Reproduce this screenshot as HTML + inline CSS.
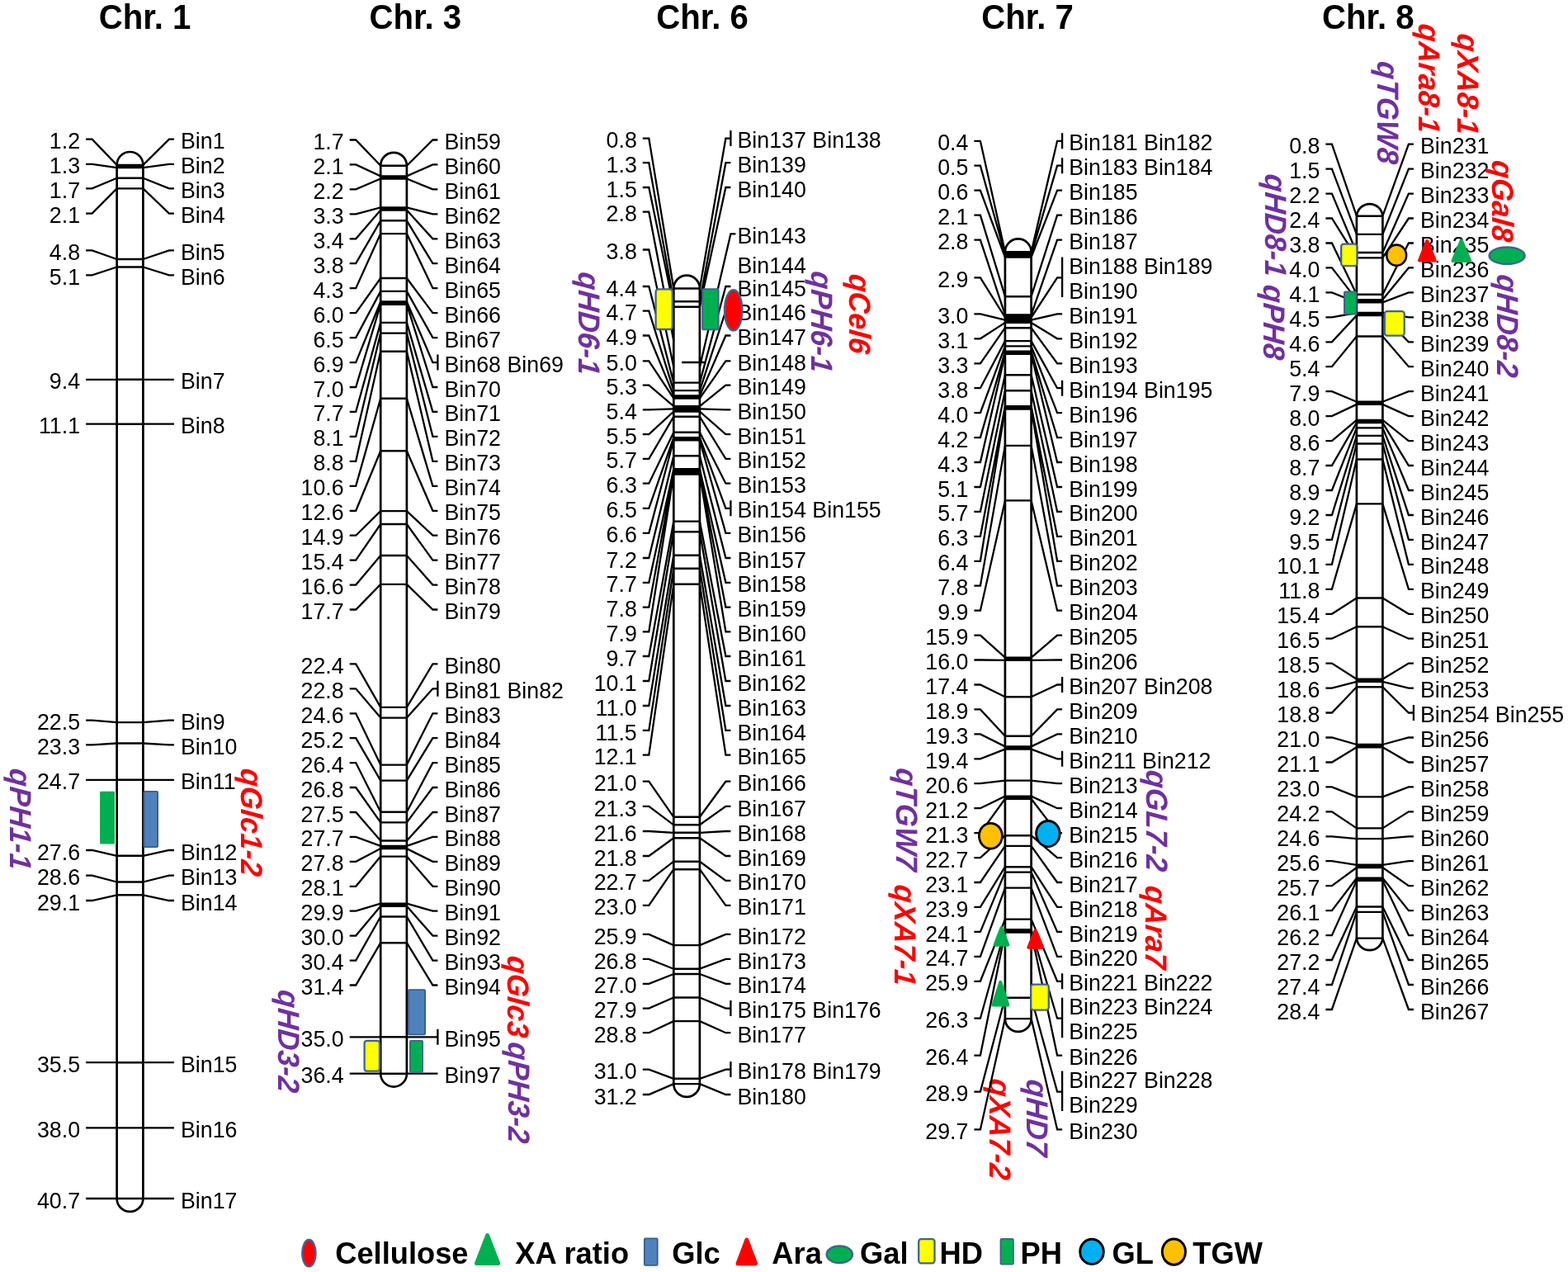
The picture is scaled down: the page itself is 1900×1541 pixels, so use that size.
<!DOCTYPE html><html><head><meta charset="utf-8"><title>Linkage map</title>
<style>html,body{margin:0;padding:0;background:#fff;}svg{display:block;}.lb{font-family:"Liberation Sans",Arial,sans-serif;font-size:26.8px;fill:#000;}.q{font-family:"Liberation Sans",Arial,sans-serif;font-size:35.5px;font-weight:bold;font-style:italic;}.t{font-family:"Liberation Sans",Arial,sans-serif;font-size:40.2px;font-weight:bold;fill:#000;}.lg{font-family:"Liberation Sans",Arial,sans-serif;font-size:36.3px;font-weight:bold;fill:#000;}</style></head><body>
<svg width="1900" height="1541" viewBox="0 0 1900 1541">
<rect width="1900" height="1541" fill="#fff"/>
<path d="M141.6 199.9 V1452 A15.9 15.9 0 0 0 173.4 1452 V199.9 A15.9 15.9 0 0 0 141.6 199.9 Z" fill="#fff" stroke="#000" stroke-width="2.7"/>
<path d="M461.2 200.7 V1300.7 A15.8 15.8 0 0 0 492.9 1300.7 V200.7 A15.8 15.8 0 0 0 461.2 200.7 Z" fill="#fff" stroke="#000" stroke-width="2.7"/>
<path d="M816.3 349.5 V1313.1 A15.8 15.8 0 0 0 847.9 1313.1 V349.5 A15.8 15.8 0 0 0 816.3 349.5 Z" fill="#fff" stroke="#000" stroke-width="2.7"/>
<path d="M1217.9 305.3 V1234.1 A15.8 15.8 0 0 0 1249.6 1234.1 V305.3 A15.8 15.8 0 0 0 1217.9 305.3 Z" fill="#fff" stroke="#000" stroke-width="2.7"/>
<path d="M1643.9 261.7 V1136.6 A15.8 15.8 0 0 0 1675.4 1136.6 V261.7 A15.8 15.8 0 0 0 1643.9 261.7 Z" fill="#fff" stroke="#000" stroke-width="2.7"/>
<g transform="scale(1 1.041)">
<text class="t" x="175.5" y="33.4" text-anchor="middle">Chr. 1</text>
<text class="lb" x="97.1" y="173.2" text-anchor="end">1.2</text>
<text class="lb" x="219" y="173.2">Bin1</text>
<text class="lb" x="97.1" y="202.1" text-anchor="end">1.3</text>
<text class="lb" x="219" y="202.1">Bin2</text>
<text class="lb" x="97.1" y="230.5" text-anchor="end">1.7</text>
<text class="lb" x="219" y="230.5">Bin3</text>
<text class="lb" x="97.1" y="259.6" text-anchor="end">2.1</text>
<text class="lb" x="219" y="259.6">Bin4</text>
<text class="lb" x="97.1" y="302.5" text-anchor="end">4.8</text>
<text class="lb" x="219" y="302.5">Bin5</text>
<text class="lb" x="97.1" y="331.4" text-anchor="end">5.1</text>
<text class="lb" x="219" y="331.4">Bin6</text>
<text class="lb" x="97.1" y="452.9" text-anchor="end">9.4</text>
<text class="lb" x="219" y="452.9">Bin7</text>
<text class="lb" x="97.1" y="504.6" text-anchor="end">11.1</text>
<text class="lb" x="219" y="504.6">Bin8</text>
<text class="lb" x="97.1" y="849.5" text-anchor="end">22.5</text>
<text class="lb" x="219" y="849.5">Bin9</text>
<text class="lb" x="97.1" y="878" text-anchor="end">23.3</text>
<text class="lb" x="219" y="878">Bin10</text>
<text class="lb" x="97.1" y="918.8" text-anchor="end">24.7</text>
<text class="lb" x="219" y="918.8">Bin11</text>
<text class="lb" x="97.1" y="1000.6" text-anchor="end">27.6</text>
<text class="lb" x="219" y="1000.6">Bin12</text>
<text class="lb" x="97.1" y="1030" text-anchor="end">28.6</text>
<text class="lb" x="219" y="1030">Bin13</text>
<text class="lb" x="97.1" y="1059.2" text-anchor="end">29.1</text>
<text class="lb" x="219" y="1059.2">Bin14</text>
<text class="lb" x="97.1" y="1247.6" text-anchor="end">35.5</text>
<text class="lb" x="219" y="1247.6">Bin15</text>
<text class="lb" x="97.1" y="1323.8" text-anchor="end">38.0</text>
<text class="lb" x="219" y="1323.8">Bin16</text>
<text class="lb" x="97.1" y="1406" text-anchor="end">40.7</text>
<text class="lb" x="219" y="1406">Bin17</text>
<text class="t" x="503.3" y="33.4" text-anchor="middle">Chr. 3</text>
<text class="lb" x="416.7" y="174" text-anchor="end">1.7</text>
<text class="lb" x="538.5" y="174">Bin59</text>
<text class="lb" x="416.7" y="202.7" text-anchor="end">2.1</text>
<text class="lb" x="538.5" y="202.7">Bin60</text>
<text class="lb" x="416.7" y="231.5" text-anchor="end">2.2</text>
<text class="lb" x="538.5" y="231.5">Bin61</text>
<text class="lb" x="416.7" y="260.3" text-anchor="end">3.3</text>
<text class="lb" x="538.5" y="260.3">Bin62</text>
<text class="lb" x="416.7" y="289" text-anchor="end">3.4</text>
<text class="lb" x="538.5" y="289">Bin63</text>
<text class="lb" x="416.7" y="317.8" text-anchor="end">3.8</text>
<text class="lb" x="538.5" y="317.8">Bin64</text>
<text class="lb" x="416.7" y="346.6" text-anchor="end">4.3</text>
<text class="lb" x="538.5" y="346.6">Bin65</text>
<text class="lb" x="416.7" y="375.4" text-anchor="end">6.0</text>
<text class="lb" x="538.5" y="375.4">Bin66</text>
<text class="lb" x="416.7" y="404.1" text-anchor="end">6.5</text>
<text class="lb" x="538.5" y="404.1">Bin67</text>
<text class="lb" x="416.7" y="432.9" text-anchor="end">6.9</text>
<text class="lb" x="538.5" y="432.9">Bin68 Bin69</text>
<text class="lb" x="416.7" y="461.7" text-anchor="end">7.0</text>
<text class="lb" x="538.5" y="461.7">Bin70</text>
<text class="lb" x="416.7" y="490.4" text-anchor="end">7.7</text>
<text class="lb" x="538.5" y="490.4">Bin71</text>
<text class="lb" x="416.7" y="519.2" text-anchor="end">8.1</text>
<text class="lb" x="538.5" y="519.2">Bin72</text>
<text class="lb" x="416.7" y="548" text-anchor="end">8.8</text>
<text class="lb" x="538.5" y="548">Bin73</text>
<text class="lb" x="416.7" y="576.8" text-anchor="end">10.6</text>
<text class="lb" x="538.5" y="576.8">Bin74</text>
<text class="lb" x="416.7" y="605.5" text-anchor="end">12.6</text>
<text class="lb" x="538.5" y="605.5">Bin75</text>
<text class="lb" x="416.7" y="634.3" text-anchor="end">14.9</text>
<text class="lb" x="538.5" y="634.3">Bin76</text>
<text class="lb" x="416.7" y="663.1" text-anchor="end">15.4</text>
<text class="lb" x="538.5" y="663.1">Bin77</text>
<text class="lb" x="416.7" y="691.8" text-anchor="end">16.6</text>
<text class="lb" x="538.5" y="691.8">Bin78</text>
<text class="lb" x="416.7" y="720.6" text-anchor="end">17.7</text>
<text class="lb" x="538.5" y="720.6">Bin79</text>
<text class="lb" x="416.7" y="783.9" text-anchor="end">22.4</text>
<text class="lb" x="538.5" y="783.9">Bin80</text>
<text class="lb" x="416.7" y="812.6" text-anchor="end">22.8</text>
<text class="lb" x="538.5" y="812.6">Bin81 Bin82</text>
<text class="lb" x="416.7" y="841.4" text-anchor="end">24.6</text>
<text class="lb" x="538.5" y="841.4">Bin83</text>
<text class="lb" x="416.7" y="870.1" text-anchor="end">25.2</text>
<text class="lb" x="538.5" y="870.1">Bin84</text>
<text class="lb" x="416.7" y="898.9" text-anchor="end">26.4</text>
<text class="lb" x="538.5" y="898.9">Bin85</text>
<text class="lb" x="416.7" y="927.6" text-anchor="end">26.8</text>
<text class="lb" x="538.5" y="927.6">Bin86</text>
<text class="lb" x="416.7" y="956.4" text-anchor="end">27.5</text>
<text class="lb" x="538.5" y="956.4">Bin87</text>
<text class="lb" x="416.7" y="985.1" text-anchor="end">27.7</text>
<text class="lb" x="538.5" y="985.1">Bin88</text>
<text class="lb" x="416.7" y="1013.9" text-anchor="end">27.8</text>
<text class="lb" x="538.5" y="1013.9">Bin89</text>
<text class="lb" x="416.7" y="1042.6" text-anchor="end">28.1</text>
<text class="lb" x="538.5" y="1042.6">Bin90</text>
<text class="lb" x="416.7" y="1071.4" text-anchor="end">29.9</text>
<text class="lb" x="538.5" y="1071.4">Bin91</text>
<text class="lb" x="416.7" y="1100.1" text-anchor="end">30.0</text>
<text class="lb" x="538.5" y="1100.1">Bin92</text>
<text class="lb" x="416.7" y="1128.9" text-anchor="end">30.4</text>
<text class="lb" x="538.5" y="1128.9">Bin93</text>
<text class="lb" x="416.7" y="1157.6" text-anchor="end">31.4</text>
<text class="lb" x="538.5" y="1157.6">Bin94</text>
<text class="lb" x="416.7" y="1218" text-anchor="end">35.0</text>
<text class="lb" x="538.5" y="1218">Bin95</text>
<text class="lb" x="416.7" y="1260.6" text-anchor="end">36.4</text>
<text class="lb" x="538.5" y="1260.6">Bin97</text>
<text class="t" x="851" y="33.4" text-anchor="middle">Chr. 6</text>
<text class="lb" x="771.8" y="172.1" text-anchor="end">0.8</text>
<text class="lb" x="893.5" y="172.1">Bin137 Bin138</text>
<text class="lb" x="771.8" y="200.6" text-anchor="end">1.3</text>
<text class="lb" x="893.5" y="200.6">Bin139</text>
<text class="lb" x="771.8" y="229.2" text-anchor="end">1.5</text>
<text class="lb" x="893.5" y="229.2">Bin140</text>
<text class="lb" x="771.8" y="257.7" text-anchor="end">2.8</text>
<text class="lb" x="771.8" y="301.7" text-anchor="end">3.8</text>
<text class="lb" x="771.8" y="344.5" text-anchor="end">4.4</text>
<text class="lb" x="893.5" y="344.5">Bin145</text>
<text class="lb" x="771.8" y="372.9" text-anchor="end">4.7</text>
<text class="lb" x="893.5" y="372.9">Bin146</text>
<text class="lb" x="771.8" y="401.6" text-anchor="end">4.9</text>
<text class="lb" x="893.5" y="401.6">Bin147</text>
<text class="lb" x="771.8" y="431.2" text-anchor="end">5.0</text>
<text class="lb" x="893.5" y="431.2">Bin148</text>
<text class="lb" x="771.8" y="459.4" text-anchor="end">5.3</text>
<text class="lb" x="893.5" y="459.4">Bin149</text>
<text class="lb" x="771.8" y="488" text-anchor="end">5.4</text>
<text class="lb" x="893.5" y="488">Bin150</text>
<text class="lb" x="771.8" y="516.6" text-anchor="end">5.5</text>
<text class="lb" x="893.5" y="516.6">Bin151</text>
<text class="lb" x="771.8" y="545.1" text-anchor="end">5.7</text>
<text class="lb" x="893.5" y="545.1">Bin152</text>
<text class="lb" x="771.8" y="573.8" text-anchor="end">6.3</text>
<text class="lb" x="893.5" y="573.8">Bin153</text>
<text class="lb" x="771.8" y="602.7" text-anchor="end">6.5</text>
<text class="lb" x="893.5" y="602.7">Bin154 Bin155</text>
<text class="lb" x="771.8" y="631.6" text-anchor="end">6.6</text>
<text class="lb" x="893.5" y="631.6">Bin156</text>
<text class="lb" x="771.8" y="660.5" text-anchor="end">7.2</text>
<text class="lb" x="893.5" y="660.5">Bin157</text>
<text class="lb" x="771.8" y="689.1" text-anchor="end">7.7</text>
<text class="lb" x="893.5" y="689.1">Bin158</text>
<text class="lb" x="771.8" y="717.8" text-anchor="end">7.8</text>
<text class="lb" x="893.5" y="717.8">Bin159</text>
<text class="lb" x="771.8" y="746.3" text-anchor="end">7.9</text>
<text class="lb" x="893.5" y="746.3">Bin160</text>
<text class="lb" x="771.8" y="774.8" text-anchor="end">9.7</text>
<text class="lb" x="893.5" y="774.8">Bin161</text>
<text class="lb" x="771.8" y="803.7" text-anchor="end">10.1</text>
<text class="lb" x="893.5" y="803.7">Bin162</text>
<text class="lb" x="771.8" y="832.5" text-anchor="end">11.0</text>
<text class="lb" x="893.5" y="832.5">Bin163</text>
<text class="lb" x="771.8" y="861.2" text-anchor="end">11.5</text>
<text class="lb" x="893.5" y="861.2">Bin164</text>
<text class="lb" x="771.8" y="889.7" text-anchor="end">12.1</text>
<text class="lb" x="893.5" y="889.7">Bin165</text>
<text class="lb" x="771.8" y="920.6" text-anchor="end">21.0</text>
<text class="lb" x="893.5" y="920.6">Bin166</text>
<text class="lb" x="771.8" y="949.6" text-anchor="end">21.3</text>
<text class="lb" x="893.5" y="949.6">Bin167</text>
<text class="lb" x="771.8" y="978.5" text-anchor="end">21.6</text>
<text class="lb" x="893.5" y="978.5">Bin168</text>
<text class="lb" x="771.8" y="1007.3" text-anchor="end">21.8</text>
<text class="lb" x="893.5" y="1007.3">Bin169</text>
<text class="lb" x="771.8" y="1036" text-anchor="end">22.7</text>
<text class="lb" x="893.5" y="1036">Bin170</text>
<text class="lb" x="771.8" y="1064.8" text-anchor="end">23.0</text>
<text class="lb" x="893.5" y="1064.8">Bin171</text>
<text class="lb" x="771.8" y="1098.5" text-anchor="end">25.9</text>
<text class="lb" x="893.5" y="1098.5">Bin172</text>
<text class="lb" x="771.8" y="1127.3" text-anchor="end">26.8</text>
<text class="lb" x="893.5" y="1127.3">Bin173</text>
<text class="lb" x="771.8" y="1156" text-anchor="end">27.0</text>
<text class="lb" x="893.5" y="1156">Bin174</text>
<text class="lb" x="771.8" y="1184.6" text-anchor="end">27.9</text>
<text class="lb" x="893.5" y="1184.6">Bin175 Bin176</text>
<text class="lb" x="771.8" y="1213.1" text-anchor="end">28.8</text>
<text class="lb" x="893.5" y="1213.1">Bin177</text>
<text class="lb" x="771.8" y="1255.7" text-anchor="end">31.0</text>
<text class="lb" x="893.5" y="1255.7">Bin178 Bin179</text>
<text class="lb" x="771.8" y="1284.9" text-anchor="end">31.2</text>
<text class="lb" x="893.5" y="1284.9">Bin180</text>
<text class="lb" x="893.5" y="283.3">Bin143</text>
<text class="lb" x="893.5" y="318.3">Bin144</text>
<text class="t" x="1245" y="33.4" text-anchor="middle">Chr. 7</text>
<text class="lb" x="1173.4" y="175.2" text-anchor="end">0.4</text>
<text class="lb" x="1295.2" y="175.2">Bin181 Bin182</text>
<text class="lb" x="1173.4" y="204" text-anchor="end">0.5</text>
<text class="lb" x="1295.2" y="204">Bin183 Bin184</text>
<text class="lb" x="1173.4" y="232.7" text-anchor="end">0.6</text>
<text class="lb" x="1295.2" y="232.7">Bin185</text>
<text class="lb" x="1173.4" y="261.5" text-anchor="end">2.1</text>
<text class="lb" x="1295.2" y="261.5">Bin186</text>
<text class="lb" x="1173.4" y="290.3" text-anchor="end">2.8</text>
<text class="lb" x="1295.2" y="290.3">Bin187</text>
<text class="lb" x="1173.4" y="334.3" text-anchor="end">2.9</text>
<text class="lb" x="1295.2" y="318.6">Bin188 Bin189</text>
<text class="lb" x="1295.2" y="347.7">Bin190</text>
<text class="lb" x="1173.4" y="376.5" text-anchor="end">3.0</text>
<text class="lb" x="1295.2" y="376.5">Bin191</text>
<text class="lb" x="1173.4" y="405.3" text-anchor="end">3.1</text>
<text class="lb" x="1295.2" y="405.3">Bin192</text>
<text class="lb" x="1173.4" y="434.1" text-anchor="end">3.3</text>
<text class="lb" x="1295.2" y="434.1">Bin193</text>
<text class="lb" x="1173.4" y="462.8" text-anchor="end">3.8</text>
<text class="lb" x="1295.2" y="462.8">Bin194 Bin195</text>
<text class="lb" x="1173.4" y="491.6" text-anchor="end">4.0</text>
<text class="lb" x="1295.2" y="491.6">Bin196</text>
<text class="lb" x="1173.4" y="520.3" text-anchor="end">4.2</text>
<text class="lb" x="1295.2" y="520.3">Bin197</text>
<text class="lb" x="1173.4" y="549.1" text-anchor="end">4.3</text>
<text class="lb" x="1295.2" y="549.1">Bin198</text>
<text class="lb" x="1173.4" y="577.9" text-anchor="end">5.1</text>
<text class="lb" x="1295.2" y="577.9">Bin199</text>
<text class="lb" x="1173.4" y="606.6" text-anchor="end">5.7</text>
<text class="lb" x="1295.2" y="606.6">Bin200</text>
<text class="lb" x="1173.4" y="635.4" text-anchor="end">6.3</text>
<text class="lb" x="1295.2" y="635.4">Bin201</text>
<text class="lb" x="1173.4" y="664.1" text-anchor="end">6.4</text>
<text class="lb" x="1295.2" y="664.1">Bin202</text>
<text class="lb" x="1173.4" y="692.9" text-anchor="end">7.8</text>
<text class="lb" x="1295.2" y="692.9">Bin203</text>
<text class="lb" x="1173.4" y="721.7" text-anchor="end">9.9</text>
<text class="lb" x="1295.2" y="721.7">Bin204</text>
<text class="lb" x="1173.4" y="750.4" text-anchor="end">15.9</text>
<text class="lb" x="1295.2" y="750.4">Bin205</text>
<text class="lb" x="1173.4" y="779.2" text-anchor="end">16.0</text>
<text class="lb" x="1295.2" y="779.2">Bin206</text>
<text class="lb" x="1173.4" y="808" text-anchor="end">17.4</text>
<text class="lb" x="1295.2" y="808">Bin207 Bin208</text>
<text class="lb" x="1173.4" y="836.7" text-anchor="end">18.9</text>
<text class="lb" x="1295.2" y="836.7">Bin209</text>
<text class="lb" x="1173.4" y="865.5" text-anchor="end">19.3</text>
<text class="lb" x="1295.2" y="865.5">Bin210</text>
<text class="lb" x="1173.4" y="894.2" text-anchor="end">19.4</text>
<text class="lb" x="1295.2" y="894.2">Bin211 Bin212</text>
<text class="lb" x="1173.4" y="923" text-anchor="end">20.6</text>
<text class="lb" x="1295.2" y="923">Bin213</text>
<text class="lb" x="1173.4" y="951.8" text-anchor="end">21.2</text>
<text class="lb" x="1295.2" y="951.8">Bin214</text>
<text class="lb" x="1173.4" y="980.5" text-anchor="end">21.3</text>
<text class="lb" x="1295.2" y="980.5">Bin215</text>
<text class="lb" x="1173.4" y="1009.3" text-anchor="end">22.7</text>
<text class="lb" x="1295.2" y="1009.3">Bin216</text>
<text class="lb" x="1173.4" y="1038" text-anchor="end">23.1</text>
<text class="lb" x="1295.2" y="1038">Bin217</text>
<text class="lb" x="1173.4" y="1066.8" text-anchor="end">23.9</text>
<text class="lb" x="1295.2" y="1066.8">Bin218</text>
<text class="lb" x="1173.4" y="1095.6" text-anchor="end">24.1</text>
<text class="lb" x="1295.2" y="1095.6">Bin219</text>
<text class="lb" x="1173.4" y="1124.3" text-anchor="end">24.7</text>
<text class="lb" x="1295.2" y="1124.3">Bin220</text>
<text class="lb" x="1173.4" y="1153.1" text-anchor="end">25.9</text>
<text class="lb" x="1295.2" y="1153.1">Bin221 Bin222</text>
<text class="lb" x="1173.4" y="1196.2" text-anchor="end">26.3</text>
<text class="lb" x="1295.2" y="1180.6">Bin223 Bin224</text>
<text class="lb" x="1295.2" y="1209.7">Bin225</text>
<text class="lb" x="1173.4" y="1239.4" text-anchor="end">26.4</text>
<text class="lb" x="1295.2" y="1239.4">Bin226</text>
<text class="lb" x="1173.4" y="1281.6" text-anchor="end">28.9</text>
<text class="lb" x="1295.2" y="1266">Bin227 Bin228</text>
<text class="lb" x="1295.2" y="1295.1">Bin229</text>
<text class="lb" x="1173.4" y="1325.6" text-anchor="end">29.7</text>
<text class="lb" x="1295.2" y="1325.6">Bin230</text>
<text class="t" x="1657.8" y="33.4" text-anchor="middle">Chr. 8</text>
<text class="lb" x="1599.4" y="179" text-anchor="end">0.8</text>
<text class="lb" x="1721" y="179">Bin231</text>
<text class="lb" x="1599.4" y="207.7" text-anchor="end">1.5</text>
<text class="lb" x="1721" y="207.7">Bin232</text>
<text class="lb" x="1599.4" y="236.5" text-anchor="end">2.2</text>
<text class="lb" x="1721" y="236.5">Bin233</text>
<text class="lb" x="1599.4" y="265.3" text-anchor="end">2.4</text>
<text class="lb" x="1721" y="265.3">Bin234</text>
<text class="lb" x="1599.4" y="294" text-anchor="end">3.8</text>
<text class="lb" x="1721" y="294">Bin235</text>
<text class="lb" x="1599.4" y="322.8" text-anchor="end">4.0</text>
<text class="lb" x="1721" y="322.8">Bin236</text>
<text class="lb" x="1599.4" y="351.6" text-anchor="end">4.1</text>
<text class="lb" x="1721" y="351.6">Bin237</text>
<text class="lb" x="1599.4" y="380.4" text-anchor="end">4.5</text>
<text class="lb" x="1721" y="380.4">Bin238</text>
<text class="lb" x="1599.4" y="409.1" text-anchor="end">4.6</text>
<text class="lb" x="1721" y="409.1">Bin239</text>
<text class="lb" x="1599.4" y="437.9" text-anchor="end">5.4</text>
<text class="lb" x="1721" y="437.9">Bin240</text>
<text class="lb" x="1599.4" y="466.7" text-anchor="end">7.9</text>
<text class="lb" x="1721" y="466.7">Bin241</text>
<text class="lb" x="1599.4" y="495.4" text-anchor="end">8.0</text>
<text class="lb" x="1721" y="495.4">Bin242</text>
<text class="lb" x="1599.4" y="524.2" text-anchor="end">8.6</text>
<text class="lb" x="1721" y="524.2">Bin243</text>
<text class="lb" x="1599.4" y="553" text-anchor="end">8.7</text>
<text class="lb" x="1721" y="553">Bin244</text>
<text class="lb" x="1599.4" y="581.7" text-anchor="end">8.9</text>
<text class="lb" x="1721" y="581.7">Bin245</text>
<text class="lb" x="1599.4" y="610.5" text-anchor="end">9.2</text>
<text class="lb" x="1721" y="610.5">Bin246</text>
<text class="lb" x="1599.4" y="639.3" text-anchor="end">9.5</text>
<text class="lb" x="1721" y="639.3">Bin247</text>
<text class="lb" x="1599.4" y="668.1" text-anchor="end">10.1</text>
<text class="lb" x="1721" y="668.1">Bin248</text>
<text class="lb" x="1599.4" y="696.8" text-anchor="end">11.8</text>
<text class="lb" x="1721" y="696.8">Bin249</text>
<text class="lb" x="1599.4" y="725.6" text-anchor="end">15.4</text>
<text class="lb" x="1721" y="725.6">Bin250</text>
<text class="lb" x="1599.4" y="754.4" text-anchor="end">16.5</text>
<text class="lb" x="1721" y="754.4">Bin251</text>
<text class="lb" x="1599.4" y="783.1" text-anchor="end">18.5</text>
<text class="lb" x="1721" y="783.1">Bin252</text>
<text class="lb" x="1599.4" y="811.9" text-anchor="end">18.6</text>
<text class="lb" x="1721" y="811.9">Bin253</text>
<text class="lb" x="1599.4" y="840.7" text-anchor="end">18.8</text>
<text class="lb" x="1721" y="840.7">Bin254 Bin255</text>
<text class="lb" x="1599.4" y="869.5" text-anchor="end">21.0</text>
<text class="lb" x="1721" y="869.5">Bin256</text>
<text class="lb" x="1599.4" y="898.2" text-anchor="end">21.1</text>
<text class="lb" x="1721" y="898.2">Bin257</text>
<text class="lb" x="1599.4" y="927" text-anchor="end">23.0</text>
<text class="lb" x="1721" y="927">Bin258</text>
<text class="lb" x="1599.4" y="955.8" text-anchor="end">24.2</text>
<text class="lb" x="1721" y="955.8">Bin259</text>
<text class="lb" x="1599.4" y="984.5" text-anchor="end">24.6</text>
<text class="lb" x="1721" y="984.5">Bin260</text>
<text class="lb" x="1599.4" y="1013.3" text-anchor="end">25.6</text>
<text class="lb" x="1721" y="1013.3">Bin261</text>
<text class="lb" x="1599.4" y="1042.1" text-anchor="end">25.7</text>
<text class="lb" x="1721" y="1042.1">Bin262</text>
<text class="lb" x="1599.4" y="1070.8" text-anchor="end">26.1</text>
<text class="lb" x="1721" y="1070.8">Bin263</text>
<text class="lb" x="1599.4" y="1099.6" text-anchor="end">26.2</text>
<text class="lb" x="1721" y="1099.6">Bin264</text>
<text class="lb" x="1599.4" y="1128.4" text-anchor="end">27.2</text>
<text class="lb" x="1721" y="1128.4">Bin265</text>
<text class="lb" x="1599.4" y="1157.2" text-anchor="end">27.4</text>
<text class="lb" x="1721" y="1157.2">Bin266</text>
<text class="lb" x="1599.4" y="1185.9" text-anchor="end">28.4</text>
<text class="lb" x="1721" y="1185.9">Bin267</text>
</g>
<g transform="scale(1.041 1)">
<text class="q" fill="#7030A0" text-anchor="middle" transform="translate(11.8 991.5) rotate(90) skewX(-5)">qPH1-1</text>
<text class="q" fill="#FF0000" text-anchor="middle" transform="translate(280.3 995.3) rotate(90) skewX(-5)">qGlc1-2</text>
<text class="q" fill="#7030A0" text-anchor="middle" transform="translate(324.2 1260.6) rotate(90) skewX(-5)">qHD3-2</text>
<text class="q" fill="#FF0000" text-anchor="middle" transform="translate(590.4 1206.6) rotate(90) skewX(-5)">qGlc3</text>
<text class="q" fill="#7030A0" text-anchor="middle" transform="translate(591.5 1322.9) rotate(90) skewX(-5)">qPH3-2</text>
<text class="q" fill="#7030A0" text-anchor="middle" transform="translate(673.8 391) rotate(90) skewX(-5)">qHD6-1</text>
<text class="q" fill="#7030A0" text-anchor="middle" transform="translate(944.6 389) rotate(90) skewX(-5)">qPH6-1</text>
<text class="q" fill="#FF0000" text-anchor="middle" transform="translate(988.3 379.5) rotate(90) skewX(-5)">qCel6</text>
<text class="q" fill="#7030A0" text-anchor="middle" transform="translate(1042.8 991.8) rotate(90) skewX(-5)">qTGW7</text>
<text class="q" fill="#7030A0" text-anchor="middle" transform="translate(1334.1 993.5) rotate(90) skewX(-5)">qGL7-2</text>
<text class="q" fill="#FF0000" text-anchor="middle" transform="translate(1041 1132.2) rotate(90) skewX(-5)">qXA7-1</text>
<text class="q" fill="#FF0000" text-anchor="middle" transform="translate(1333.7 1122.5) rotate(90) skewX(-5)">qAra7</text>
<text class="q" fill="#FF0000" text-anchor="middle" transform="translate(1152.1 1367.1) rotate(90) skewX(-5)">qXA7-2</text>
<text class="q" fill="#7030A0" text-anchor="middle" transform="translate(1194.9 1353.4) rotate(90) skewX(-5)">qHD7</text>
<text class="q" fill="#7030A0" text-anchor="middle" transform="translate(1603.6 135.7) rotate(90) skewX(-5)">qTGW8</text>
<text class="q" fill="#FF0000" text-anchor="middle" transform="translate(1651.2 94.1) rotate(90) skewX(-5)">qAra8-1</text>
<text class="q" fill="#FF0000" text-anchor="middle" transform="translate(1696.9 101.2) rotate(90) skewX(-5)">qXA8-1</text>
<text class="q" fill="#FF0000" text-anchor="middle" transform="translate(1736.5 242.8) rotate(90) skewX(-5)">qGal8</text>
<text class="q" fill="#7030A0" text-anchor="middle" transform="translate(1472.7 272.1) rotate(90) skewX(-5)">qHD8-1</text>
<text class="q" fill="#7030A0" text-anchor="middle" transform="translate(1471 389.6) rotate(90) skewX(-5)">qPH8</text>
<text class="q" fill="#7030A0" text-anchor="middle" transform="translate(1742.9 394) rotate(90) skewX(-5)">qHD8-2</text>
</g>
<text class="lg" x="406.2" y="1530.5">Cellulose</text>
<text class="lg" x="624.3" y="1530.5">XA ratio</text>
<text class="lg" x="814.3" y="1530.5">Glc</text>
<text class="lg" x="935.3" y="1530.5">Ara</text>
<text class="lg" x="1042" y="1530.5">Gal</text>
<text class="lg" x="1138.6" y="1530.5">HD</text>
<text class="lg" x="1236.6" y="1530.5">PH</text>
<text class="lg" x="1347.5" y="1530.5">GL</text>
<text class="lg" x="1445.3" y="1530.5">TGW</text>
<path d="M141.6 198.7H173.4V204.3H141.6Z M141.6 214.5H173.4V216.9H141.6Z M141.6 227.2H173.4V229.6H141.6Z M141.6 312.8H173.4V315.2H141.6Z M141.6 322.3H173.4V324.7H141.6Z M141.6 458.6H173.4V461H141.6Z M141.6 512.5H173.4V514.9H141.6Z M141.6 873.9H173.4V876.3H141.6Z M141.6 899.3H173.4V901.7H141.6Z M141.6 943.6H173.4V946H141.6Z M141.6 1035.6H173.4V1038H141.6Z M141.6 1067.3H173.4V1069.7H141.6Z M141.6 1083.1H173.4V1085.5H141.6Z M141.6 1286H173.4V1288.4H141.6Z M141.6 1365.2H173.4V1367.6H141.6Z M141.6 1450.8H173.4V1453.2H141.6Z M461.2 199.5H492.9V201.9H461.2Z M461.2 212.2H492.9V217.7H461.2Z M461.2 250.2H492.9V255.8H461.2Z M461.2 266.1H492.9V268.5H461.2Z M461.2 281.9H492.9V284.3H461.2Z M461.2 335.8H492.9V338.2H461.2Z M461.2 351.7H492.9V354.1H461.2Z M461.2 364.3H492.9V369.9H461.2Z M461.2 389.7H492.9V392.1H461.2Z M461.2 402.4H492.9V404.8H461.2Z M461.2 424.6H492.9V427H461.2Z M461.2 481.6H492.9V484H461.2Z M461.2 545H492.9V547.4H461.2Z M461.2 617.9H492.9V620.3H461.2Z M461.2 633.8H492.9V636.2H461.2Z M461.2 671.8H492.9V674.2H461.2Z M461.2 706.7H492.9V709.1H461.2Z M461.2 855.7H492.9V858.1H461.2Z M461.2 868.4H492.9V870.8H461.2Z M461.2 925.4H492.9V927.8H461.2Z M461.2 944.4H492.9V946.8H461.2Z M461.2 982.5H492.9V984.9H461.2Z M461.2 995.2H492.9V997.6H461.2Z M461.2 1017.3H492.9V1019.8H461.2Z M461.2 1023.7H492.9V1029.3H461.2Z M461.2 1036.4H492.9V1038.8H461.2Z M461.2 1093.4H492.9V1099H461.2Z M461.2 1109.3H492.9V1111.7H461.2Z M461.2 1141H492.9V1143.4H461.2Z M461.2 1255.1H492.9V1257.5H461.2Z M461.2 1299.5H492.9V1301.9H461.2Z M816.3 348.3H847.9V350.7H816.3Z M816.3 364.1H847.9V366.5H816.3Z M816.3 370.5H847.9V372.9H816.3Z M816.3 462.4H847.9V464.8H816.3Z M816.3 471.9H847.9V474.3H816.3Z M816.3 478.2H847.9V483.8H816.3Z M816.3 490.9H847.9V499.7H816.3Z M816.3 503.6H847.9V506H816.3Z M816.3 522.6H847.9V525H816.3Z M816.3 528.9H847.9V534.5H816.3Z M816.3 551.1H847.9V553.5H816.3Z M816.3 567H847.9V575.7H816.3Z M816.3 630.4H847.9V632.8H816.3Z M816.3 643.1H847.9V645.5H816.3Z M816.3 671.6H847.9V674H816.3Z M816.3 687.5H847.9V689.9H816.3Z M816.3 706.5H847.9V708.9H816.3Z M816.3 988.6H847.9V991H816.3Z M816.3 998.1H847.9V1000.5H816.3Z M816.3 1007.6H847.9V1010H816.3Z M816.3 1014H847.9V1016.4H816.3Z M816.3 1042.5H847.9V1044.9H816.3Z M816.3 1052H847.9V1054.4H816.3Z M816.3 1143.9H847.9V1146.3H816.3Z M816.3 1172.5H847.9V1174.9H816.3Z M816.3 1178.8H847.9V1181.2H816.3Z M816.3 1207.3H847.9V1209.7H816.3Z M816.3 1235.9H847.9V1238.3H816.3Z M816.3 1305.6H847.9V1308H816.3Z M816.3 1311.9H847.9V1314.3H816.3Z M1217.9 304.1H1249.6V312.8H1217.9Z M1217.9 358H1249.6V360.4H1217.9Z M1217.9 380.2H1249.6V392.1H1217.9Z M1217.9 396H1249.6V398.4H1217.9Z M1217.9 411.9H1249.6V414.3H1217.9Z M1217.9 418.2H1249.6V420.6H1217.9Z M1217.9 424.5H1249.6V430.1H1217.9Z M1217.9 453.1H1249.6V455.5H1217.9Z M1217.9 472.1H1249.6V474.5H1217.9Z M1217.9 491.1H1249.6V496.7H1217.9Z M1217.9 538.7H1249.6V541.1H1217.9Z M1217.9 605.2H1249.6V607.6H1217.9Z M1217.9 795.4H1249.6V801H1217.9Z M1217.9 843H1249.6V845.4H1217.9Z M1217.9 890.5H1249.6V892.9H1217.9Z M1217.9 903.2H1249.6V908.8H1217.9Z M1217.9 944.4H1249.6V946.8H1217.9Z M1217.9 963.4H1249.6V969H1217.9Z M1217.9 1011H1249.6V1013.4H1217.9Z M1217.9 1023.7H1249.6V1026.1H1217.9Z M1217.9 1049H1249.6V1051.4H1217.9Z M1217.9 1055.4H1249.6V1057.8H1217.9Z M1217.9 1074.4H1249.6V1076.8H1217.9Z M1217.9 1112.4H1249.6V1114.8H1217.9Z M1217.9 1125.1H1249.6V1130.7H1217.9Z M1217.9 1207.5H1249.6V1209.9H1217.9Z M1217.9 1232.9H1249.6V1235.3H1217.9Z M1643.9 260.5H1675.4V262.9H1643.9Z M1643.9 282.7H1675.4V285.1H1643.9Z M1643.9 304.8H1675.4V307.2H1643.9Z M1643.9 311.2H1675.4V313.6H1643.9Z M1643.9 355.6H1675.4V358H1643.9Z M1643.9 361.9H1675.4V367.5H1643.9Z M1643.9 377.8H1675.4V383.3H1643.9Z M1643.9 406.3H1675.4V408.7H1643.9Z M1643.9 485.5H1675.4V491.1H1643.9Z M1643.9 507.7H1675.4V513.3H1643.9Z M1643.9 517.2H1675.4V519.6H1643.9Z M1643.9 526.7H1675.4V529.1H1643.9Z M1643.9 536.2H1675.4V538.7H1643.9Z M1643.9 555.3H1675.4V557.7H1643.9Z M1643.9 609.2H1675.4V611.6H1643.9Z M1643.9 723.3H1675.4V725.7H1643.9Z M1643.9 758.1H1675.4V760.5H1643.9Z M1643.9 821.5H1675.4V827.1H1643.9Z M1643.9 831.1H1675.4V833.5H1643.9Z M1643.9 900.8H1675.4V906.4H1643.9Z M1643.9 964.2H1675.4V966.6H1643.9Z M1643.9 1002.2H1675.4V1004.6H1643.9Z M1643.9 1014.9H1675.4V1017.3H1643.9Z M1643.9 1046.6H1675.4V1052.2H1643.9Z M1643.9 1062.5H1675.4V1068H1643.9Z M1643.9 1097.3H1675.4V1099.7H1643.9Z M1643.9 1103.7H1675.4V1106.1H1643.9Z M1643.9 1135.4H1675.4V1137.8H1643.9Z" fill="#000"/><path d="M104.1 168.7 L111.6 168.7 L141.6 199.9 M173.4 199.9 L204.9 168.7 L210.9 168.7 M104.1 198.8 L111.6 198.8 L141.6 203.1 M173.4 203.1 L204.9 198.8 L210.9 198.8 M104.1 228.4 L111.6 228.4 L141.6 215.7 M173.4 215.7 L204.9 228.4 L210.9 228.4 M104.1 258.6 L111.6 258.6 L141.6 228.4 M173.4 228.4 L204.9 258.6 L210.9 258.6 M104.1 303.3 L111.6 303.3 L141.6 314 M173.4 314 L204.9 303.3 L210.9 303.3 M104.1 333.4 L111.6 333.4 L141.6 323.5 M173.4 323.5 L204.9 333.4 L210.9 333.4 M104.1 459.8 L111.6 459.8 L141.6 459.8 M173.4 459.8 L204.9 459.8 L210.9 459.8 M104.1 513.7 L111.6 513.7 L141.6 513.7 M173.4 513.7 L204.9 513.7 L210.9 513.7 M104.1 872.7 L111.6 872.7 L141.6 875.1 M173.4 875.1 L204.9 872.7 L210.9 872.7 M104.1 902.4 L111.6 902.4 L141.6 900.5 M173.4 900.5 L204.9 902.4 L210.9 902.4 M104.1 944.8 L111.6 944.8 L141.6 944.8 M173.4 944.8 L204.9 944.8 L210.9 944.8 M104.1 1030 L111.6 1030 L141.6 1036.8 M173.4 1036.8 L204.9 1030 L210.9 1030 M104.1 1060.6 L111.6 1060.6 L141.6 1068.5 M173.4 1068.5 L204.9 1060.6 L210.9 1060.6 M104.1 1091 L111.6 1091 L141.6 1084.3 M173.4 1084.3 L204.9 1091 L210.9 1091 M104.1 1287.2 L111.6 1287.2 L141.6 1287.2 M173.4 1287.2 L204.9 1287.2 L210.9 1287.2 M104.1 1366.4 L111.6 1366.4 L141.6 1366.4 M173.4 1366.4 L204.9 1366.4 L210.9 1366.4 M104.1 1452 L111.6 1452 L141.6 1452 M173.4 1452 L204.9 1452 L210.9 1452 M423.7 169.5 L431.2 169.5 L461.2 200.7 M492.9 200.7 L524.4 169.5 L530.4 169.5 M423.7 199.4 L431.2 199.4 L461.2 213.4 M492.9 213.4 L524.4 199.4 L530.4 199.4 M423.7 229.4 L431.2 229.4 L461.2 216.5 M492.9 216.5 L524.4 229.4 L530.4 229.4 M423.7 259.4 L431.2 259.4 L461.2 251.4 M492.9 251.4 L524.4 259.4 L530.4 259.4 M423.7 289.3 L431.2 289.3 L461.2 254.6 M492.9 254.6 L524.4 289.3 L530.4 289.3 M423.7 319.2 L431.2 319.2 L461.2 267.3 M492.9 267.3 L524.4 319.2 L530.4 319.2 M423.7 349.2 L431.2 349.2 L461.2 283.1 M492.9 283.1 L524.4 349.2 L530.4 349.2 M423.7 379.1 L431.2 379.1 L461.2 337 M492.9 337 L524.4 379.1 L530.4 379.1 M423.7 409.1 L431.2 409.1 L461.2 352.9 M492.9 352.9 L524.4 409.1 L530.4 409.1 M423.7 439.1 L431.2 439.1 L461.2 365.5 M492.9 365.5 L524.4 439.1 L530.4 439.1 M530.4 429.6 L530.4 448.6 M423.7 469 L431.2 469 L461.2 368.7 M492.9 368.7 L524.4 469 L530.4 469 M423.7 498.9 L431.2 498.9 L461.2 390.9 M492.9 390.9 L524.4 498.9 L530.4 498.9 M423.7 528.9 L431.2 528.9 L461.2 403.6 M492.9 403.6 L524.4 528.9 L530.4 528.9 M423.7 558.8 L431.2 558.8 L461.2 425.8 M492.9 425.8 L524.4 558.8 L530.4 558.8 M423.7 588.8 L431.2 588.8 L461.2 482.8 M492.9 482.8 L524.4 588.8 L530.4 588.8 M423.7 618.8 L431.2 618.8 L461.2 546.2 M492.9 546.2 L524.4 618.8 L530.4 618.8 M423.7 648.7 L431.2 648.7 L461.2 619.1 M492.9 619.1 L524.4 648.7 L530.4 648.7 M423.7 678.6 L431.2 678.6 L461.2 635 M492.9 635 L524.4 678.6 L530.4 678.6 M423.7 708.6 L431.2 708.6 L461.2 673 M492.9 673 L524.4 708.6 L530.4 708.6 M423.7 738.5 L431.2 738.5 L461.2 707.9 M492.9 707.9 L524.4 738.5 L530.4 738.5 M423.7 804.4 L431.2 804.4 L461.2 856.9 M492.9 856.9 L524.4 804.4 L530.4 804.4 M423.7 834.3 L431.2 834.3 L461.2 869.6 M492.9 869.6 L524.4 834.3 L530.4 834.3 M530.4 824.8 L530.4 843.8 M423.7 864.3 L431.2 864.3 L461.2 926.6 M492.9 926.6 L524.4 864.3 L530.4 864.3 M423.7 894.2 L431.2 894.2 L461.2 945.6 M492.9 945.6 L524.4 894.2 L530.4 894.2 M423.7 924.1 L431.2 924.1 L461.2 983.7 M492.9 983.7 L524.4 924.1 L530.4 924.1 M423.7 954 L431.2 954 L461.2 996.4 M492.9 996.4 L524.4 954 L530.4 954 M423.7 984 L431.2 984 L461.2 1018.5 M492.9 1018.5 L524.4 984 L530.4 984 M423.7 1013.9 L431.2 1013.9 L461.2 1024.9 M492.9 1024.9 L524.4 1013.9 L530.4 1013.9 M423.7 1043.8 L431.2 1043.8 L461.2 1028.1 M492.9 1028.1 L524.4 1043.8 L530.4 1043.8 M423.7 1073.8 L431.2 1073.8 L461.2 1037.6 M492.9 1037.6 L524.4 1073.8 L530.4 1073.8 M423.7 1103.7 L431.2 1103.7 L461.2 1094.6 M492.9 1094.6 L524.4 1103.7 L530.4 1103.7 M423.7 1133.6 L431.2 1133.6 L461.2 1097.8 M492.9 1097.8 L524.4 1133.6 L530.4 1133.6 M423.7 1163.6 L431.2 1163.6 L461.2 1110.5 M492.9 1110.5 L524.4 1163.6 L530.4 1163.6 M423.7 1193.5 L431.2 1193.5 L461.2 1142.2 M492.9 1142.2 L524.4 1193.5 L530.4 1193.5 M423.7 1256.3 L431.2 1256.3 L461.2 1256.3 M492.9 1256.3 L524.4 1256.3 L530.4 1256.3 M530.4 1246.8 L530.4 1265.8 M423.7 1300.7 L431.2 1300.7 L461.2 1300.7 M492.9 1300.7 L524.4 1300.7 L530.4 1300.7 M778.8 167.6 L786.3 167.6 L816.3 349.5 M847.9 349.5 L879.4 167.6 L885.4 167.6 M885.4 158.1 L885.4 177.1 M778.8 197.2 L786.3 197.2 L816.3 365.3 M847.9 365.3 L879.4 197.2 L885.4 197.2 M778.8 227 L786.3 227 L816.3 371.7 M847.9 371.7 L879.4 227 L885.4 227 M778.8 256.7 L786.3 256.7 L816.3 412.9 M778.8 302.5 L786.3 302.5 L816.3 444.6 M778.8 347 L786.3 347 L816.3 463.6 M847.9 463.6 L879.4 347 L885.4 347 M778.8 376.6 L786.3 376.6 L816.3 473.1 M847.9 473.1 L879.4 376.6 L885.4 376.6 M778.8 406.5 L786.3 406.5 L816.3 479.4 M847.9 479.4 L879.4 406.5 L885.4 406.5 M778.8 437.3 L786.3 437.3 L816.3 482.6 M847.9 482.6 L879.4 437.3 L885.4 437.3 M778.8 466.6 L786.3 466.6 L816.3 492.1 M847.9 492.1 L879.4 466.6 L885.4 466.6 M778.8 496.4 L786.3 496.4 L816.3 495.3 M847.9 495.3 L879.4 496.4 L885.4 496.4 M778.8 526.2 L786.3 526.2 L816.3 498.5 M847.9 498.5 L879.4 526.2 L885.4 526.2 M778.8 555.9 L786.3 555.9 L816.3 504.8 M847.9 504.8 L879.4 555.9 L885.4 555.9 M778.8 585.7 L786.3 585.7 L816.3 523.8 M847.9 523.8 L879.4 585.7 L885.4 585.7 M778.8 615.8 L786.3 615.8 L816.3 530.1 M847.9 530.1 L879.4 615.8 L885.4 615.8 M885.4 606.3 L885.4 625.3 M778.8 645.9 L786.3 645.9 L816.3 533.3 M847.9 533.3 L879.4 645.9 L885.4 645.9 M778.8 676 L786.3 676 L816.3 552.3 M847.9 552.3 L879.4 676 L885.4 676 M778.8 705.8 L786.3 705.8 L816.3 568.2 M847.9 568.2 L879.4 705.8 L885.4 705.8 M778.8 735.6 L786.3 735.6 L816.3 571.4 M847.9 571.4 L879.4 735.6 L885.4 735.6 M778.8 765.3 L786.3 765.3 L816.3 574.5 M847.9 574.5 L879.4 765.3 L885.4 765.3 M778.8 795 L786.3 795 L816.3 631.6 M847.9 631.6 L879.4 795 L885.4 795 M778.8 825 L786.3 825 L816.3 644.3 M847.9 644.3 L879.4 825 L885.4 825 M778.8 855 L786.3 855 L816.3 672.8 M847.9 672.8 L879.4 855 L885.4 855 M778.8 884.9 L786.3 884.9 L816.3 688.7 M847.9 688.7 L879.4 884.9 L885.4 884.9 M778.8 914.6 L786.3 914.6 L816.3 707.7 M847.9 707.7 L879.4 914.6 L885.4 914.6 M778.8 946.7 L786.3 946.7 L816.3 989.8 M847.9 989.8 L879.4 946.7 L885.4 946.7 M778.8 976.9 L786.3 976.9 L816.3 999.3 M847.9 999.3 L879.4 976.9 L885.4 976.9 M778.8 1007 L786.3 1007 L816.3 1008.8 M847.9 1008.8 L879.4 1007 L885.4 1007 M778.8 1037 L786.3 1037 L816.3 1015.2 M847.9 1015.2 L879.4 1037 L885.4 1037 M778.8 1066.9 L786.3 1066.9 L816.3 1043.7 M847.9 1043.7 L879.4 1066.9 L885.4 1066.9 M778.8 1096.9 L786.3 1096.9 L816.3 1053.2 M847.9 1053.2 L879.4 1096.9 L885.4 1096.9 M778.8 1131.9 L786.3 1131.9 L816.3 1145.1 M847.9 1145.1 L879.4 1131.9 L885.4 1131.9 M778.8 1161.9 L786.3 1161.9 L816.3 1173.7 M847.9 1173.7 L879.4 1161.9 L885.4 1161.9 M778.8 1191.8 L786.3 1191.8 L816.3 1180 M847.9 1180 L879.4 1191.8 L885.4 1191.8 M778.8 1221.6 L786.3 1221.6 L816.3 1208.5 M847.9 1208.5 L879.4 1221.6 L885.4 1221.6 M885.4 1212.1 L885.4 1231.1 M778.8 1251.2 L786.3 1251.2 L816.3 1237.1 M847.9 1237.1 L879.4 1251.2 L885.4 1251.2 M778.8 1295.6 L786.3 1295.6 L816.3 1306.8 M847.9 1306.8 L879.4 1295.6 L885.4 1295.6 M885.4 1286.1 L885.4 1305.1 M778.8 1326 L786.3 1326 L816.3 1313.1 M847.9 1313.1 L879.4 1326 L885.4 1326 M847.9 444.6 L885.4 283.3 L891.4 283.3 M1180.4 170.8 L1187.9 170.8 L1217.9 305.3 M1249.6 305.3 L1281.1 170.8 L1287.1 170.8 M1287.1 161.3 L1287.1 180.3 M1180.4 200.7 L1187.9 200.7 L1217.9 308.5 M1249.6 308.5 L1281.1 200.7 L1287.1 200.7 M1287.1 191.2 L1287.1 210.2 M1180.4 230.7 L1187.9 230.7 L1217.9 311.6 M1249.6 311.6 L1281.1 230.7 L1287.1 230.7 M1180.4 260.6 L1187.9 260.6 L1217.9 359.2 M1249.6 359.2 L1281.1 260.6 L1287.1 260.6 M1180.4 290.6 L1187.9 290.6 L1217.9 381.4 M1249.6 381.4 L1281.1 290.6 L1287.1 290.6 M1180.4 336.4 L1187.9 336.4 L1217.9 384.5 M1249.6 384.5 L1281.1 336.4 L1287.1 336.4 M1287.1 311.4 L1287.1 359.9 M1180.4 380.4 L1187.9 380.4 L1217.9 387.7 M1249.6 387.7 L1281.1 380.4 L1287.1 380.4 M1180.4 410.3 L1187.9 410.3 L1217.9 390.9 M1249.6 390.9 L1281.1 410.3 L1287.1 410.3 M1180.4 440.3 L1187.9 440.3 L1217.9 397.2 M1249.6 397.2 L1281.1 440.3 L1287.1 440.3 M1180.4 470.2 L1187.9 470.2 L1217.9 413.1 M1249.6 413.1 L1281.1 470.2 L1287.1 470.2 M1287.1 460.7 L1287.1 479.7 M1180.4 500.1 L1187.9 500.1 L1217.9 419.4 M1249.6 419.4 L1281.1 500.1 L1287.1 500.1 M1180.4 530.1 L1187.9 530.1 L1217.9 425.7 M1249.6 425.7 L1281.1 530.1 L1287.1 530.1 M1180.4 560 L1187.9 560 L1217.9 428.9 M1249.6 428.9 L1281.1 560 L1287.1 560 M1180.4 590 L1187.9 590 L1217.9 454.3 M1249.6 454.3 L1281.1 590 L1287.1 590 M1180.4 619.9 L1187.9 619.9 L1217.9 473.3 M1249.6 473.3 L1281.1 619.9 L1287.1 619.9 M1180.4 649.8 L1187.9 649.8 L1217.9 492.3 M1249.6 492.3 L1281.1 649.8 L1287.1 649.8 M1180.4 679.8 L1187.9 679.8 L1217.9 495.5 M1249.6 495.5 L1281.1 679.8 L1287.1 679.8 M1180.4 709.7 L1187.9 709.7 L1217.9 539.9 M1249.6 539.9 L1281.1 709.7 L1287.1 709.7 M1180.4 739.7 L1187.9 739.7 L1217.9 606.4 M1249.6 606.4 L1281.1 739.7 L1287.1 739.7 M1180.4 769.6 L1187.9 769.6 L1217.9 796.6 M1249.6 796.6 L1281.1 769.6 L1287.1 769.6 M1180.4 799.5 L1187.9 799.5 L1217.9 799.8 M1249.6 799.8 L1281.1 799.5 L1287.1 799.5 M1180.4 829.5 L1187.9 829.5 L1217.9 844.2 M1249.6 844.2 L1281.1 829.5 L1287.1 829.5 M1287.1 820 L1287.1 839 M1180.4 859.4 L1187.9 859.4 L1217.9 891.7 M1249.6 891.7 L1281.1 859.4 L1287.1 859.4 M1180.4 889.4 L1187.9 889.4 L1217.9 904.4 M1249.6 904.4 L1281.1 889.4 L1287.1 889.4 M1180.4 919.3 L1187.9 919.3 L1217.9 907.6 M1249.6 907.6 L1281.1 919.3 L1287.1 919.3 M1287.1 909.8 L1287.1 928.8 M1180.4 949.2 L1187.9 949.2 L1217.9 945.6 M1249.6 945.6 L1281.1 949.2 L1287.1 949.2 M1180.4 979.2 L1187.9 979.2 L1217.9 964.6 M1249.6 964.6 L1281.1 979.2 L1287.1 979.2 M1180.4 1009.1 L1187.9 1009.1 L1217.9 967.8 M1249.6 967.8 L1281.1 1009.1 L1287.1 1009.1 M1180.4 1039.1 L1187.9 1039.1 L1217.9 1012.2 M1249.6 1012.2 L1281.1 1039.1 L1287.1 1039.1 M1180.4 1069 L1187.9 1069 L1217.9 1024.9 M1249.6 1024.9 L1281.1 1069 L1287.1 1069 M1180.4 1098.9 L1187.9 1098.9 L1217.9 1050.2 M1249.6 1050.2 L1281.1 1098.9 L1287.1 1098.9 M1180.4 1128.9 L1187.9 1128.9 L1217.9 1056.6 M1249.6 1056.6 L1281.1 1128.9 L1287.1 1128.9 M1180.4 1158.8 L1187.9 1158.8 L1217.9 1075.6 M1249.6 1075.6 L1281.1 1158.8 L1287.1 1158.8 M1180.4 1188.8 L1187.9 1188.8 L1217.9 1113.6 M1249.6 1113.6 L1281.1 1188.8 L1287.1 1188.8 M1287.1 1179.3 L1287.1 1198.3 M1180.4 1233.7 L1187.9 1233.7 L1217.9 1126.3 M1249.6 1126.3 L1281.1 1233.7 L1287.1 1233.7 M1287.1 1208.7 L1287.1 1257.2 M1180.4 1278.6 L1187.9 1278.6 L1217.9 1129.5 M1249.6 1129.5 L1281.1 1278.6 L1287.1 1278.6 M1180.4 1322.6 L1187.9 1322.6 L1217.9 1208.7 M1249.6 1208.7 L1281.1 1322.6 L1287.1 1322.6 M1287.1 1297.6 L1287.1 1346.1 M1180.4 1368.4 L1187.9 1368.4 L1217.9 1234.1 M1249.6 1234.1 L1281.1 1368.4 L1287.1 1368.4 M1606.4 174.7 L1613.9 174.7 L1643.9 261.7 M1675.4 261.7 L1706.9 174.7 L1712.9 174.7 M1606.4 204.6 L1613.9 204.6 L1643.9 283.9 M1675.4 283.9 L1706.9 204.6 L1712.9 204.6 M1606.4 234.6 L1613.9 234.6 L1643.9 306 M1675.4 306 L1706.9 234.6 L1712.9 234.6 M1606.4 264.5 L1613.9 264.5 L1643.9 312.4 M1675.4 312.4 L1706.9 264.5 L1712.9 264.5 M1606.4 294.5 L1613.9 294.5 L1643.9 356.8 M1675.4 356.8 L1706.9 294.5 L1712.9 294.5 M1606.4 324.4 L1613.9 324.4 L1643.9 363.1 M1675.4 363.1 L1706.9 324.4 L1712.9 324.4 M1606.4 354.4 L1613.9 354.4 L1643.9 366.3 M1675.4 366.3 L1706.9 354.4 L1712.9 354.4 M1606.4 384.4 L1613.9 384.4 L1643.9 379 M1675.4 379 L1706.9 384.4 L1712.9 384.4 M1606.4 414.3 L1613.9 414.3 L1643.9 382.1 M1675.4 382.1 L1706.9 414.3 L1712.9 414.3 M1606.4 444.2 L1613.9 444.2 L1643.9 407.5 M1675.4 407.5 L1706.9 444.2 L1712.9 444.2 M1606.4 474.2 L1613.9 474.2 L1643.9 486.7 M1675.4 486.7 L1706.9 474.2 L1712.9 474.2 M1606.4 504.1 L1613.9 504.1 L1643.9 489.9 M1675.4 489.9 L1706.9 504.1 L1712.9 504.1 M1606.4 534.1 L1613.9 534.1 L1643.9 508.9 M1675.4 508.9 L1706.9 534.1 L1712.9 534.1 M1606.4 564 L1613.9 564 L1643.9 512.1 M1675.4 512.1 L1706.9 564 L1712.9 564 M1606.4 594 L1613.9 594 L1643.9 518.4 M1675.4 518.4 L1706.9 594 L1712.9 594 M1606.4 624 L1613.9 624 L1643.9 527.9 M1675.4 527.9 L1706.9 624 L1712.9 624 M1606.4 653.9 L1613.9 653.9 L1643.9 537.5 M1675.4 537.5 L1706.9 653.9 L1712.9 653.9 M1606.4 683.8 L1613.9 683.8 L1643.9 556.5 M1675.4 556.5 L1706.9 683.8 L1712.9 683.8 M1606.4 713.8 L1613.9 713.8 L1643.9 610.4 M1675.4 610.4 L1706.9 713.8 L1712.9 713.8 M1606.4 743.8 L1613.9 743.8 L1643.9 724.5 M1675.4 724.5 L1706.9 743.8 L1712.9 743.8 M1606.4 773.7 L1613.9 773.7 L1643.9 759.3 M1675.4 759.3 L1706.9 773.7 L1712.9 773.7 M1606.4 803.6 L1613.9 803.6 L1643.9 822.8 M1675.4 822.8 L1706.9 803.6 L1712.9 803.6 M1606.4 833.6 L1613.9 833.6 L1643.9 825.9 M1675.4 825.9 L1706.9 833.6 L1712.9 833.6 M1606.4 863.5 L1613.9 863.5 L1643.9 832.3 M1675.4 832.3 L1706.9 863.5 L1712.9 863.5 M1712.9 854 L1712.9 873 M1606.4 893.5 L1613.9 893.5 L1643.9 902 M1675.4 902 L1706.9 893.5 L1712.9 893.5 M1606.4 923.5 L1613.9 923.5 L1643.9 905.2 M1675.4 905.2 L1706.9 923.5 L1712.9 923.5 M1606.4 953.4 L1613.9 953.4 L1643.9 965.4 M1675.4 965.4 L1706.9 953.4 L1712.9 953.4 M1606.4 983.3 L1613.9 983.3 L1643.9 1003.4 M1675.4 1003.4 L1706.9 983.3 L1712.9 983.3 M1606.4 1013.3 L1613.9 1013.3 L1643.9 1016.1 M1675.4 1016.1 L1706.9 1013.3 L1712.9 1013.3 M1606.4 1043.2 L1613.9 1043.2 L1643.9 1047.8 M1675.4 1047.8 L1706.9 1043.2 L1712.9 1043.2 M1606.4 1073.2 L1613.9 1073.2 L1643.9 1051 M1675.4 1051 L1706.9 1073.2 L1712.9 1073.2 M1606.4 1103.1 L1613.9 1103.1 L1643.9 1063.7 M1675.4 1063.7 L1706.9 1103.1 L1712.9 1103.1 M1606.4 1133.1 L1613.9 1133.1 L1643.9 1066.8 M1675.4 1066.8 L1706.9 1133.1 L1712.9 1133.1 M1606.4 1163 L1613.9 1163 L1643.9 1098.5 M1675.4 1098.5 L1706.9 1163 L1712.9 1163 M1606.4 1193 L1613.9 1193 L1643.9 1104.9 M1675.4 1104.9 L1706.9 1193 L1712.9 1193 M1606.4 1223 L1613.9 1223 L1643.9 1136.6 M1675.4 1136.6 L1706.9 1223 L1712.9 1223 M826.2 439 L853.7 439" fill="none" stroke="#000" stroke-width="2.3" stroke-linejoin="miter"/>
<rect x="121.1" y="958.8" width="17.9" height="63.7" rx="1.2" fill="#00B050"/>
<rect x="174.4" y="958.9" width="16.7" height="67.2" rx="1.2" fill="#4F81BD" stroke="#385D8A" stroke-width="1.8"/>
<rect x="494.8" y="1199.1" width="20.3" height="54.3" rx="1.2" fill="#4F81BD" stroke="#385D8A" stroke-width="1.8"/>
<rect x="441.6" y="1260.8" width="18.4" height="36.9" rx="3" fill="#FFFF00" stroke="#41628F" stroke-width="2.3"/>
<rect x="496.8" y="1260.8" width="15.4" height="38.2" rx="1.2" fill="#00B050" stroke="#41628F" stroke-width="1.6"/>
<rect x="794.6" y="350.4" width="20.2" height="48.6" rx="3" fill="#FFFF00" stroke="#41628F" stroke-width="2.3"/>
<rect x="851.2" y="350.3" width="19.4" height="48.9" rx="1.2" fill="#00B050" stroke="#41628F" stroke-width="2.0"/>
<ellipse cx="888.7" cy="375.9" rx="10.7" ry="24.6" fill="#FF0000" stroke="#41628F" stroke-width="2.4"/>
<ellipse cx="1200.4" cy="1012.7" rx="14" ry="15.4" fill="#FFC000" stroke="#000" stroke-width="2.8"/>
<ellipse cx="1269.9" cy="1010.1" rx="14.3" ry="15.6" fill="#00B0F0" stroke="#000" stroke-width="2.8"/>
<path d="M1213.5 1124.1 L1221.4 1144.7 L1205.6 1144.7 Z" fill="#00B050" stroke="#00B050" stroke-width="4.0" stroke-linejoin="round"/>
<path d="M1212.3 1189.8 L1221.4 1217.5 L1203.3 1217.5 Z" fill="#00B050" stroke="#00B050" stroke-width="4.0" stroke-linejoin="round"/>
<path d="M1254.7 1127.1 L1263.1 1147.7 L1246.3 1147.7 Z" fill="#FF0000" stroke="#FF0000" stroke-width="4.0" stroke-linejoin="round"/>
<rect x="1249.2" y="1192.7" width="21.6" height="30.9" rx="3" fill="#FFFF00" stroke="#41628F" stroke-width="2.3"/>
<rect x="1625.2" y="295.6" width="19.2" height="26.6" rx="3" fill="#FFFF00" stroke="#41628F" stroke-width="2.3"/>
<rect x="1629" y="353.4" width="14.6" height="27" rx="1.2" fill="#00B050" stroke="#41628F" stroke-width="2.0"/>
<ellipse cx="1692.2" cy="309.2" rx="11.9" ry="12.6" fill="#FFC000" stroke="#000" stroke-width="2.6"/>
<path d="M1729.3 292 L1738.7 315.6 L1720 315.6 Z" fill="#FF0000" stroke="#FF0000" stroke-width="4.0" stroke-linejoin="round"/>
<path d="M1770.8 291.3 L1781.2 316 L1760.5 316 Z" fill="#00B050" stroke="#00B050" stroke-width="4.0" stroke-linejoin="round"/>
<ellipse cx="1826.1" cy="309.7" rx="21.6" ry="10.2" fill="#00B050" stroke="#41628F" stroke-width="2.4"/>
<rect x="1677.8" y="377.1" width="23.9" height="29.5" rx="3" fill="#FFFF00" stroke="#41628F" stroke-width="2.3"/>
<ellipse cx="374.4" cy="1518.2" rx="8.1" ry="16.2" fill="#FF0000" stroke="#41628F" stroke-width="2.4"/>
<path d="M590.6 1496.7 L603.7 1530.5 L577.5 1530.5 Z" fill="#00B050" stroke="#00B050" stroke-width="5" stroke-linejoin="round"/>
<rect x="780.9" y="1500.4" width="15.8" height="32.5" rx="1.2" fill="#4F81BD" stroke="#385D8A" stroke-width="1.8"/>
<path d="M904.8 1502 L915.5 1530.7 L894.1 1530.7 Z" fill="#FF0000" stroke="#FF0000" stroke-width="5" stroke-linejoin="round"/>
<ellipse cx="1017.3" cy="1519.8" rx="15.7" ry="10.3" fill="#00B050" stroke="#41628F" stroke-width="2.4"/>
<rect x="1113.2" y="1501.2" width="19.3" height="29.1" rx="3" fill="#FFFF00" stroke="#41628F" stroke-width="2.3"/>
<rect x="1212.5" y="1500.9" width="15.4" height="30.8" rx="1.2" fill="#00B050" stroke="#41628F" stroke-width="1.8"/>
<ellipse cx="1323" cy="1516.4" rx="14.3" ry="15.1" fill="#00B0F0" stroke="#000" stroke-width="3.0"/>
<ellipse cx="1422.4" cy="1516.6" rx="14.1" ry="15.6" fill="#FFC000" stroke="#000" stroke-width="3.0"/>
</svg></body></html>
